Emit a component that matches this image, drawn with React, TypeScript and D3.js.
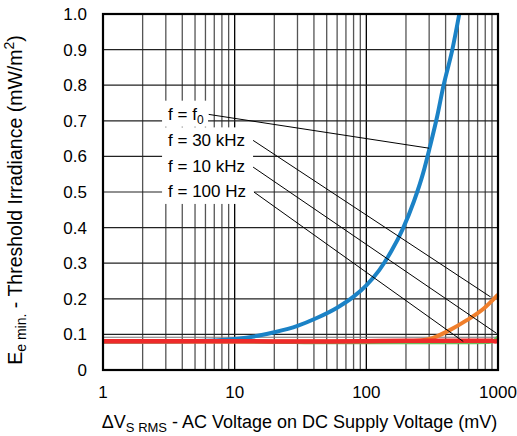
import React from "react";
import * as d3 from "d3";

const W = 517;
const H = 436;
const PL = 103, PR = 498, PT = 14, PB = 370;

// X axis decades and tick labels
const xTicks = [1, 10, 100, 1000];
const xTickLabels = ["1", "10", "100", "1000"];
const yTicks = [0, 0.1, 0.2, 0.3, 0.4, 0.5, 0.6, 0.7, 0.8, 0.9, 1.0];
const yTickLabels = ["0", "0.1", "0.2", "0.3", "0.4", "0.5", "0.6", "0.7", "0.8", "0.9", "1.0"];

// f = f0 (blue)
const f0X = [1, 3, 6, 10, 15, 20, 30, 42, 60, 80, 100, 125, 155, 190, 230, 270, 304, 345, 384, 450, 508];
const f0Y = [0.08, 0.08, 0.082, 0.087, 0.096, 0.106, 0.124, 0.146, 0.175, 0.206, 0.238, 0.28, 0.334, 0.398, 0.474, 0.553, 0.627, 0.712, 0.796, 0.9, 1.0];
// f = 30 kHz (orange)
const f30kX = [1, 10, 100, 200, 255, 300, 340, 430, 580, 780, 1000];
const f30kY = [0.08, 0.08, 0.08, 0.081, 0.083, 0.087, 0.094, 0.112, 0.14, 0.173, 0.212];
// f = 10 kHz (green)
const f10kX = [1, 10, 20, 50, 100, 200, 500, 850, 930, 1000];
const f10kY = [0.08, 0.08, 0.079, 0.077, 0.077, 0.077, 0.077, 0.078, 0.082, 0.093];
// f = 100 Hz (red)
const f100X = [1, 10, 30, 50, 100, 200, 400, 700, 900, 950, 1000];
const f100Y = [0.081, 0.081, 0.08, 0.08, 0.081, 0.082, 0.082, 0.082, 0.082, 0.08, 0.083];

// Annotation labels (data coords) and leader lines
const labelMain = ["f = f", "f = 30 kHz", "f = 10 kHz", "f = 100 Hz"];
const labelSub = ["0", "", "", ""];
const labelY = [0.72, 0.645, 0.574, 0.503];
const labelX = 3.12;
const leaderStartX = [6.35, 13.8, 13.8, 14.0];
const leaderStartY = [0.718, 0.645, 0.57, 0.5];
const leaderEndX = [300, 880, 975, 545];
const leaderEndY = [0.623, 0.205, 0.103, 0.08];
const labelWidths = [46, 91, 91, 92];

const series = [
  { xs: f0X, ys: f0Y, color: "#1b82c6", w: 4 },
  { xs: f30kX, ys: f30kY, color: "#f07f2c", w: 4 },
  { xs: f10kX, ys: f10kY, color: "#6cbf5a", w: 3.5 },
  { xs: f100X, ys: f100Y, color: "#ee2a2a", w: 4.5 },
];

export default function App() {
  const x = d3.scaleLog().domain([1, 1000]).range([PL, PR]);
  const y = d3.scaleLinear().domain([0, 1]).range([PB, PT]);
  const minor: number[] = [];
  for (let d = 1; d < 1000; d *= 10) for (let k = 2; k <= 9; k++) minor.push(d * k);

  const line = d3
    .line<[number, number]>()
    .x((p) => x(p[0]))
    .y((p) => y(p[1]))
    .curve(d3.curveMonotoneX);

  const font = "Arial, 'Liberation Sans', Helvetica, sans-serif";

  return (
    <svg width={W} height={H} style={{ position: "absolute", left: 0, top: 0, background: "#fff" }} fontFamily={font}>
      {/* grid */}
      {minor.map((v) => (
        <line key={"m" + v} x1={x(v)} x2={x(v)} y1={PT} y2={PB} stroke="#555" strokeWidth={1.3} />
      ))}
      {xTicks.map((v) => (
        <line key={"M" + v} x1={x(v)} x2={x(v)} y1={PT} y2={PB} stroke="#000" strokeWidth={1.3} />
      ))}
      {yTicks.map((v) => (
        <line key={"h" + v} x1={PL} x2={PR} y1={y(v)} y2={y(v)} stroke="#222" strokeWidth={1.2} />
      ))}
      <line x1={PL} x2={PR} y1={y(0.092)} y2={y(0.092)} stroke="#777" strokeWidth={1} />

      {/* curves */}
      {series.map((s, i) => (
        <path
          key={"s" + i}
          d={line(s.xs.map((v, j) => [v, s.ys[j]] as [number, number])) || ""}
          fill="none"
          stroke={s.color}
          strokeWidth={s.w}
          strokeLinejoin="round"
        />
      ))}

      {/* label backgrounds */}
      {labelMain.map((t, i) => (
        <rect
          key={"bg" + i}
          x={x(labelX) - 6}
          y={y(labelY[i]) - 13}
          width={labelWidths[i]}
          height={26}
          fill="#fff"
        />
      ))}
      {labelMain.map((t, i) => (
        <text key={"lb" + i} x={x(labelX)} y={y(labelY[i]) + 6} fontSize={17} fill="#000">
          {t}
          {labelSub[i] ? (
            <tspan fontSize={12} dy={4}>
              {labelSub[i]}
            </tspan>
          ) : null}
        </text>
      ))}
      {labelMain.map((t, i) => (
        <line
          key={"ld" + i}
          x1={x(leaderStartX[i])}
          y1={y(leaderStartY[i])}
          x2={x(leaderEndX[i])}
          y2={y(leaderEndY[i])}
          stroke="#000"
          strokeWidth={1}
        />
      ))}

      {/* frame */}
      <rect x={PL} y={PT} width={PR - PL} height={PB - PT} fill="none" stroke="#000" strokeWidth={2.2} />

      {/* tick labels */}
      {yTicks.map((v, i) => (
        <text key={"yt" + i} x={87} y={y(v) + 6} fontSize={17} textAnchor="end" fill="#000">
          {yTickLabels[i]}
        </text>
      ))}
      {xTicks.map((v, i) => (
        <text key={"xt" + i} x={x(v)} y={398} fontSize={17} textAnchor="middle" fill="#000">
          {xTickLabels[i]}
        </text>
      ))}

      {/* axis titles */}
      <text x={(PL + PR) / 2 - 1} y={428} fontSize={18} textAnchor="middle" fill="#000">
        ΔV
        <tspan fontSize={13} dy={4}>S RMS</tspan>
        <tspan dy={-4}> - AC Voltage on DC Supply Voltage (mV)</tspan>
      </text>
      <text transform={`translate(22,200) rotate(-90)`} fontSize={19.5} textAnchor="middle" fill="#000">
        E
        <tspan fontSize={14} dy={4}>e min.</tspan>
        <tspan dy={-4}> - Threshold Irradiance (mW/m</tspan>
        <tspan fontSize={14} dy={-8}>2</tspan>
        <tspan dy={8}>)</tspan>
      </text>
    </svg>
  );
}
